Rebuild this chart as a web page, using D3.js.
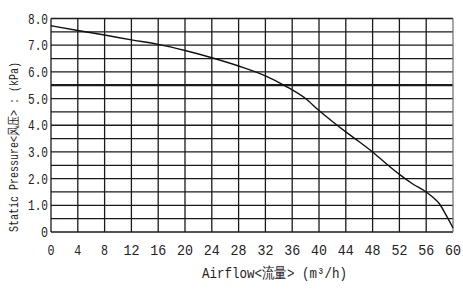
<!DOCTYPE html>
<html>
<head>
<meta charset="utf-8">
<script src="https://cdn.jsdelivr.net/npm/d3@7"></script>
<style>
  body { margin: 0; background: #fff; }
  text { font-family: "Liberation Mono", "DejaVu Sans Mono", monospace; fill: #222; }
</style>
</head>
<body>
<div id="chart"></div>
<script>
var svgWidth = 463;
var svgHeight = 291;

// curve
var airflow = [0, 4, 8, 12, 16, 20, 24, 28, 32, 35, 38, 40, 42, 44, 46, 48, 50, 52, 54, 56, 57, 58, 59, 60];
var pressure = [7.73, 7.55, 7.38, 7.2, 7.03, 6.8, 6.53, 6.22, 5.85, 5.47, 5.0, 4.55, 4.14, 3.75, 3.38, 3.0, 2.57, 2.16, 1.8, 1.5, 1.3, 1.05, 0.62, 0.15];

var xTicks = [0, 4, 8, 12, 16, 20, 24, 28, 32, 36, 40, 44, 48, 52, 56, 60];
var yTicks = [0, 1, 2, 3, 4, 5, 6, 7, 8];
var yGrid = d3.range(0, 8.01, 0.5);

var xTitle = "Airflow<流量> (m³/h)";
var yTitle = "Static Pressure<风压> : (kPa)";

var chartMargin = { top: 18.5, right: 10, bottom: 59, left: 51 };
var chartWidth = svgWidth - chartMargin.left - chartMargin.right;
var chartHeight = svgHeight - chartMargin.top - chartMargin.bottom;

var svg = d3.select("#chart")
  .append("svg")
  .attr("width", svgWidth)
  .attr("height", svgHeight);

var chartGroup = svg.append("g")
  .attr("transform", `translate(${chartMargin.left}, ${chartMargin.top})`);

var xScale = d3.scaleLinear().domain([0, 60]).range([0, chartWidth]);
var yScale = d3.scaleLinear().domain([0, 8]).range([chartHeight, 0]);

// horizontal grid
chartGroup.selectAll(".hgrid")
  .data(yGrid)
  .enter()
  .append("line")
  .attr("x1", 0)
  .attr("x2", chartWidth)
  .attr("y1", d => yScale(d))
  .attr("y2", d => yScale(d))
  .attr("stroke", "#1a1a1a")
  .attr("stroke-width", d => d === 5.5 ? 2.2 : 1.3);

// vertical grid
chartGroup.selectAll(".vgrid")
  .data(xTicks)
  .enter()
  .append("line")
  .attr("x1", d => xScale(d))
  .attr("x2", d => xScale(d))
  .attr("y1", 0)
  .attr("y2", chartHeight)
  .attr("stroke", d => d === 60 ? "#777" : "#1a1a1a")
  .attr("stroke-width", 1.3);

// tick labels (tall, narrow look)
chartGroup.selectAll(".ylab")
  .data(yTicks)
  .enter()
  .append("text")
  .attr("x", -3)
  .attr("y", d => yScale(d) + 5)
  .attr("text-anchor", "end")
  .attr("font-size", 15)
  .attr("textLength", d => d === 0 ? 7 : 20)
  .attr("lengthAdjust", "spacingAndGlyphs")
  .text(d => d === 0 ? "0" : d3.format(".1f")(d));

chartGroup.selectAll(".xlab")
  .data(xTicks)
  .enter()
  .append("text")
  .attr("x", d => xScale(d))
  .attr("y", chartHeight + 23)
  .attr("text-anchor", "middle")
  .attr("font-size", 15)
  .attr("textLength", d => d < 10 ? 7 : 16)
  .attr("lengthAdjust", "spacingAndGlyphs")
  .text(d => d);

// pressure curve
var line = d3.line()
  .x((d, i) => xScale(airflow[i]))
  .y(d => yScale(d))
  .curve(d3.curveMonotoneX);

chartGroup.append("path")
  .datum(pressure)
  .attr("d", line)
  .attr("fill", "none")
  .attr("stroke", "#111")
  .attr("stroke-width", 1.4);

// axis titles
svg.append("text")
  .attr("x", 202)
  .attr("y", 278)
  .attr("font-size", 15)
  .attr("textLength", 145)
  .attr("lengthAdjust", "spacingAndGlyphs")
  .text(xTitle);

svg.append("text")
  .attr("transform", "translate(18, 232) rotate(-90)")
  .attr("font-size", 13)
  .attr("textLength", 170)
  .attr("lengthAdjust", "spacingAndGlyphs")
  .text(yTitle);
</script>
</body>
</html>
